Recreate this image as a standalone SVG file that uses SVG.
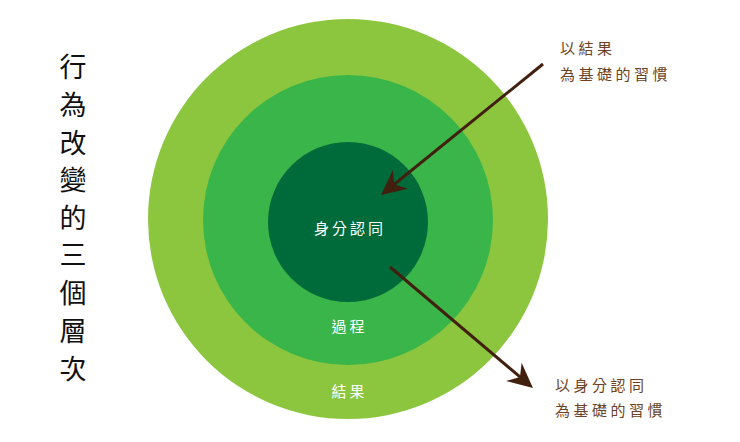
<svg xmlns="http://www.w3.org/2000/svg" width="740" height="442" viewBox="0 0 740 442">
<style>
.title{font-family:"Noto Sans CJK TC","Noto Sans CJK SC",sans-serif;font-size:27px;fill:#111;}
.lbl{font-family:"Noto Sans CJK TC","Noto Sans CJK SC",sans-serif;font-size:15px;fill:#ffffff;letter-spacing:3px;}
.note{font-family:"Noto Sans CJK TC","Noto Sans CJK SC",sans-serif;font-size:15px;fill:#6b4224;letter-spacing:3.5px;}
.conn{stroke:#42200f;stroke-width:3;fill:none;}
</style>
<defs>
<marker id="ah" viewBox="-26 -14 28 28" refX="-12" refY="0" markerWidth="28" markerHeight="28" markerUnits="userSpaceOnUse" orient="auto">
<path d="M0,0 L-25,-12 L-17,0 L-25,12 Z" fill="#42200f"/>
</marker>
</defs>
<rect width="740" height="442" fill="#ffffff"/>
<g id="title">
<text class="title" x="73" y="65" text-anchor="middle" dominant-baseline="central">行</text>
<text class="title" x="73" y="103" text-anchor="middle" dominant-baseline="central">為</text>
<text class="title" x="73" y="141" text-anchor="middle" dominant-baseline="central">改</text>
<text class="title" x="73" y="178.5" text-anchor="middle" dominant-baseline="central">變</text>
<text class="title" x="73" y="216" text-anchor="middle" dominant-baseline="central">的</text>
<text class="title" x="73" y="253.5" text-anchor="middle" dominant-baseline="central">三</text>
<text class="title" x="73" y="291" text-anchor="middle" dominant-baseline="central">個</text>
<text class="title" x="73" y="329" text-anchor="middle" dominant-baseline="central">層</text>
<text class="title" x="73" y="367" text-anchor="middle" dominant-baseline="central">次</text>
</g>
<g id="outer">
<circle cx="348" cy="219" r="200" fill="#8cc63f"/>
<text class="lbl" x="349.5" y="390" text-anchor="middle" dominant-baseline="central" font-size="16">結果</text>
</g>
<g id="middle">
<circle cx="348" cy="220" r="145" fill="#3ab54a"/>
<text class="lbl" x="349.5" y="325" text-anchor="middle" dominant-baseline="central" font-size="16">過程</text>
</g>
<g id="inner">
<circle cx="348" cy="222" r="80" fill="#006b3a"/>
<text class="lbl" x="350" y="227" text-anchor="middle" dominant-baseline="central">身分認同</text>
</g>
<g id="connectors">
<path class="conn" d="M543,64 L390.3,187.5" marker-end="url(#ah)"/>
<path class="conn" d="M390,267 L523.8,380.2" marker-end="url(#ah)"/>
</g>
<g id="note-top">
<text class="note" x="560" y="47" dominant-baseline="central">以結果</text>
<text class="note" x="560" y="73" dominant-baseline="central">為基礎的習慣</text>
</g>
<g id="note-bottom">
<text class="note" x="555" y="384" dominant-baseline="central">以身分認同</text>
<text class="note" x="555" y="409" dominant-baseline="central">為基礎的習慣</text>
</g>
</svg>
